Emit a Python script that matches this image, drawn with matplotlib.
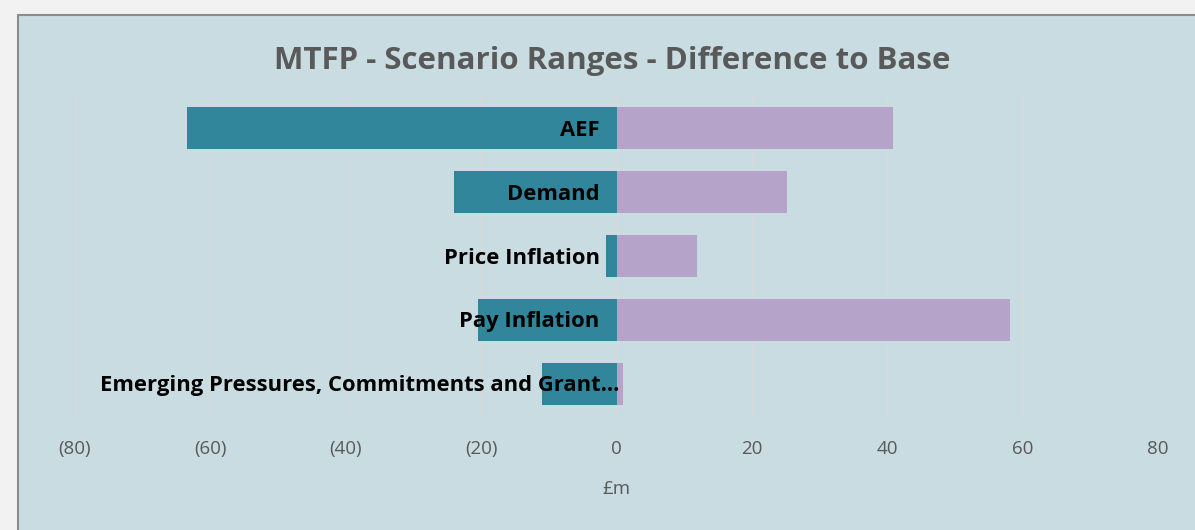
import matplotlib
matplotlib.use("Agg")
import matplotlib.pyplot as plt
from matplotlib.patches import Rectangle

# data (GBP m, difference to base)
categories = ["AEF", "Demand", "Price Inflation", "Pay Inflation",
              "Emerging Pressures, Commitments and Grant\u2026"]
downside = [-63.5, -24.0, -1.6, -20.5, -11.0]
upside = [40.8, 25.2, 11.9, 58.1, 0.9]
xticks = [-80, -60, -40, -20, 0, 20, 40, 60, 80]
xticklabels = ["(80)", "(60)", "(40)", "(20)", "0", "20", "40", "60", "80"]

TEAL = "#31869c"
LILAC = "#b5a3c9"
PANEL = "#c8dce1"
GREY_TXT = "#595959"

plt.rcParams["font.family"] = ["Open Sans", "DejaVu Sans"]

W, H = 1195, 530
fig = plt.figure(figsize=(W / 100, H / 100), dpi=100, facecolor="#f2f2f2")

# chart area panel (behind the axes)
panel = Rectangle((18 / W, -0.1), 1.1, 1 - 15 / H + 0.1, transform=fig.transFigure,
                  facecolor=PANEL, edgecolor="#8c8c8c", linewidth=1.5, zorder=-5)
fig.patches.append(panel)

ax = fig.add_axes([75 / W, 1 - 416 / H, (1158 - 75) / W, 320 / H])
ax.set_facecolor("none")

y = list(range(len(categories)))
ax.barh(y, downside, height=0.66, color=TEAL, zorder=2)
ax.barh(y, upside, height=0.66, color=LILAC, zorder=2)

ax.set_xlim(-80, 80)
ax.set_ylim(len(categories) - 0.5, -0.5)
ax.set_xticks(xticks)
ax.set_xticklabels(xticklabels, color=GREY_TXT, fontsize=13.5)
ax.set_yticks([])
ax.tick_params(axis="x", length=0, pad=17)
ax.grid(axis="x", color="#d9d9d9", linewidth=1, zorder=1)
for s in ax.spines.values():
    s.set_visible(False)

# category labels sit next to the zero line
for i, name in enumerate(categories):
    off = 3 if i == len(categories) - 1 else -17
    ax.annotate(name, (0, i), xytext=(off, -2), textcoords="offset pixels",
                ha="right", va="center", fontsize=15.8, fontweight="bold",
                color="black", zorder=3)

ax.set_xlabel("\u00a3m", color=GREY_TXT, fontsize=13.5, labelpad=16)

fig.text(612 / W, 1 - 61 / H, "MTFP - Scenario Ranges - Difference to Base",
         ha="center", va="center", fontsize=22.5, fontweight="bold", color=GREY_TXT)

fig.savefig("out.png", dpi=100, facecolor=fig.get_facecolor())
